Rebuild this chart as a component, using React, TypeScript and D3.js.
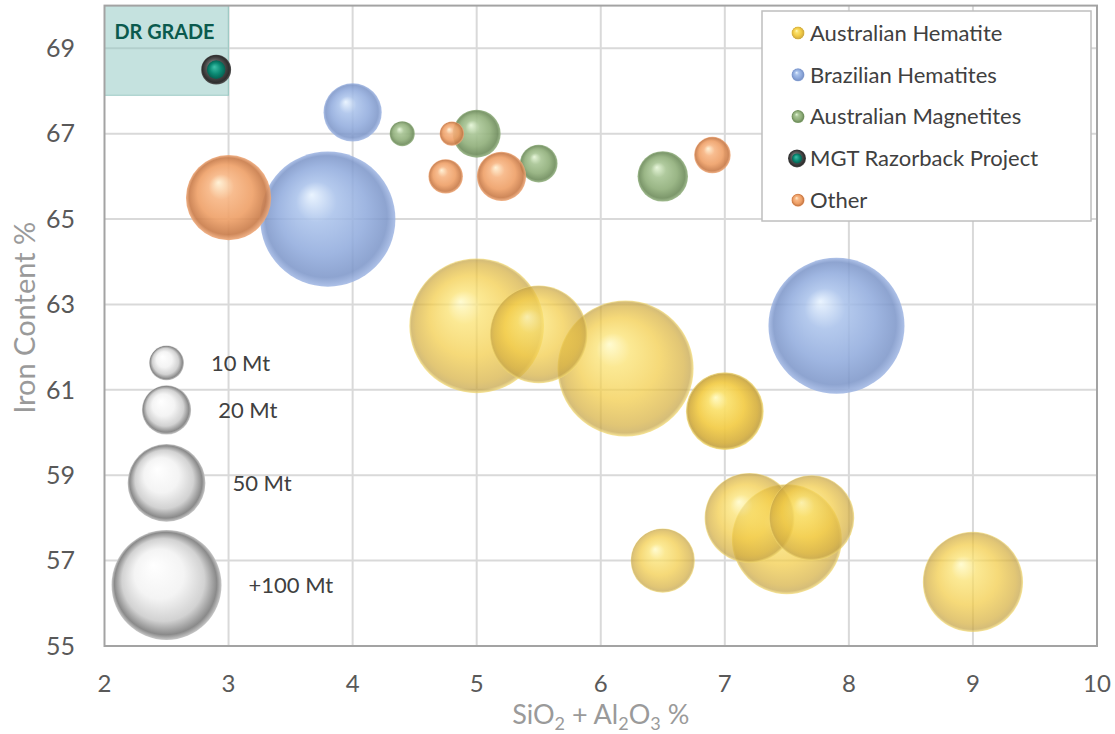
import React from "react";
import * as d3 from "d3";

// ---------- data ----------
const seriesNames = [
  "Australian Hematite",
  "Brazilian Hematites",
  "Australian Magnetites",
  "MGT Razorback Project",
  "Other",
];

const hematiteX = [5.0, 6.2, 7.5, 9.0, 5.5, 7.2, 7.7, 7.0, 7.0, 6.5];
const hematiteY = [62.5, 61.5, 57.5, 56.5, 62.3, 58.0, 58.0, 60.5, 60.5, 57.0];
const hematiteMt = [150, 153, 100, 83, 79, 67, 60, 50, 48, 34];

const brazilX = [3.8, 7.9, 4.0];
const brazilY = [65.0, 62.5, 67.5];
const brazilMt = [151, 153, 28];

const magnetiteX = [5.0, 6.5, 5.5, 4.4];
const magnetiteY = [67.0, 66.0, 66.3, 67.0];
const magnetiteMt = [19, 21, 11.7, 5.2];

const mgtX = [2.9];
const mgtY = [68.5];
const mgtMt = [7.4];

const otherX = [3.0, 5.2, 6.9, 4.75, 4.8];
const otherY = [65.5, 66.0, 66.5, 66.0, 67.0];
const otherMt = [60, 20, 11, 9.8, 4.9];

const xTicks = [2, 3, 4, 5, 6, 7, 8, 9, 10];
const yTicks = [55, 57, 59, 61, 63, 65, 67, 69];

const sizeLegendMt = [10, 20, 50, 100];
const sizeLegendLabels = ["10 Mt", "20 Mt", "50 Mt", "+100 Mt"];
const sizeLegendX = [2.5, 2.5, 2.5, 2.5];
const sizeLegendY = [61.63, 60.53, 58.82, 56.43];

const drBoxX = [2, 3];
const drBoxY = [67.9, 70];

// ---------- styles ----------
const W = 1115;
const H = 734;
const FONT = "Lato, 'Open Sans', 'DejaVu Sans', sans-serif";

type Grad = { id: string; stops: [number, string][]; opacity: number };
const grads: Grad[] = [
  {
    id: "g-hem",
    opacity: 0.72,
    stops: [
      [0, "#fffac0"],
      [0.25, "#fae06a"],
      [0.6, "#f2cb45"],
      [0.88, "#d6b040"],
      [0.96, "#c6a444"],
      [1, "#f5dc70"],
    ],
  },
  {
    id: "g-bra",
    opacity: 0.85,
    stops: [
      [0, "#e6f2ff"],
      [0.3, "#a7c0ea"],
      [0.65, "#8ea9dc"],
      [0.9, "#7a94c8"],
      [1, "#9fb6e4"],
    ],
  },
  {
    id: "g-mag",
    opacity: 0.9,
    stops: [
      [0, "#e4f5d6"],
      [0.3, "#a7c493"],
      [0.65, "#8fae79"],
      [0.9, "#6f8d5c"],
      [1, "#97b584"],
    ],
  },
  {
    id: "g-mgt",
    opacity: 1,
    stops: [
      [0, "#9a9a9a"],
      [0.5, "#5a5a5a"],
      [0.9, "#2e2e2e"],
      [1, "#555"],
    ],
  },
  {
    id: "g-oth",
    opacity: 0.9,
    stops: [
      [0, "#fff0d2"],
      [0.3, "#f7b583"],
      [0.65, "#ee9f66"],
      [0.9, "#c97b48"],
      [1, "#f0ab7c"],
    ],
  },
];

const legendSwatch = ["g-hem", "g-bra", "g-mag", "g-mgt", "g-oth"];

export default function App() {
  const x = d3.scaleLinear().domain([2, 10]).range([104.5, 1097]);
  const y = d3.scaleLinear().domain([55, 70]).range([646, 5.6]);
  const r = d3.scaleSqrt().domain([0, 100]).range([0, 55]);

  const series = [
    { g: "g-hem", xs: hematiteX, ys: hematiteY, ms: hematiteMt },
    { g: "g-bra", xs: brazilX, ys: brazilY, ms: brazilMt },
    { g: "g-mag", xs: magnetiteX, ys: magnetiteY, ms: magnetiteMt },
    { g: "g-mgt", xs: mgtX, ys: mgtY, ms: mgtMt },
    { g: "g-oth", xs: otherX, ys: otherY, ms: otherMt },
  ];

  const x0 = x(2), x1 = x(10), y0 = y(55), y1 = y(70);

  const legX = 762, legY = 11, legW = 329, legH = 210;
  const legRowY = (i: number) => 33 + i * 41.8;

  return (
    <svg
      width={W}
      height={H}
      style={{ position: "absolute", left: 0, top: 0, background: "#fff" }}
      fontFamily={FONT}
    >
      <defs>
        {grads.map((g) => (
          <radialGradient key={g.id} id={g.id} cx="50%" cy="50%" r="50%" fx="38%" fy="32%">
            {g.stops.map(([o, c], i) => (
              <stop key={i} offset={o} stopColor={c} />
            ))}
          </radialGradient>
        ))}
        <radialGradient id="g-white" cx="50%" cy="50%" r="50%" fx="38%" fy="32%">
          <stop offset={0} stopColor="#ffffff" />
          <stop offset={0.45} stopColor="#f4f4f4" />
          <stop offset={0.75} stopColor="#d2d2d2" />
          <stop offset={0.93} stopColor="#8a8a8a" />
          <stop offset={1} stopColor="#c8c8c8" />
        </radialGradient>
        <radialGradient id="g-teal" cx="50%" cy="50%" r="50%" fx="40%" fy="35%">
          <stop offset={0} stopColor="#3fc2aa" />
          <stop offset={0.6} stopColor="#0b8a74" />
          <stop offset={1} stopColor="#066152" />
        </radialGradient>
      </defs>

      <rect x={0} y={0} width={W} height={H} fill="#fff" />

      {/* grid */}
      {xTicks.slice(1, -1).map((t) => (
        <line key={"gx" + t} x1={x(t)} x2={x(t)} y1={y1} y2={y0} stroke="#d9d9d9" strokeWidth={2} />
      ))}
      {yTicks.slice(1).map((t) => (
        <line key={"gy" + t} x1={x0} x2={x1} y1={y(t)} y2={y(t)} stroke="#d9d9d9" strokeWidth={2} />
      ))}

      {/* DR grade box */}
      <rect
        x={x(drBoxX[0])}
        y={y(drBoxY[1])}
        width={x(drBoxX[1]) - x(drBoxX[0])}
        height={y(drBoxY[0]) - y(drBoxY[1])}
        fill="#8cc6c0"
        fillOpacity={0.5}
        stroke="#9ccac5"
        strokeWidth={1}
      />
      <text
        x={x(drBoxX[0]) + 10}
        y={39}
        fill="#0b5a4e"
        fontSize={20}
        fontWeight={700}
        textLength={100}
        lengthAdjust="spacingAndGlyphs"
      >
        DR GRADE
      </text>

      {/* plot frame */}
      <rect x={x0} y={y1} width={x1 - x0} height={y0 - y1} fill="none" stroke="#a3a3a3" strokeWidth={2} />

      {/* size legend */}
      {sizeLegendMt.map((m, i) => (
        <g key={"sl" + i}>
          <circle cx={x(sizeLegendX[i])} cy={y(sizeLegendY[i])} r={r(m)} fill="url(#g-white)" />
          <text
            x={x(sizeLegendX[i]) + r(m) + 27}
            y={y(sizeLegendY[i])}
            dy="0.35em"
            fontSize={22}
            fill="#404040"
          >
            {sizeLegendLabels[i]}
          </text>
        </g>
      ))}

      {/* bubbles */}
      {series.map((s, si) => (
        <g key={"s" + si}>
          {s.xs.map((xv, i) => {
            const cx = x(xv), cy = y(s.ys[i]), rr = r(s.ms[i]);
            const op = grads.find((g) => g.id === s.g)!.opacity;
            if (s.g === "g-mgt") {
              return (
                <g key={i}>
                  <circle cx={cx} cy={cy} r={rr} fill="url(#g-mgt)" />
                  <circle cx={cx} cy={cy} r={rr * 0.62} fill="url(#g-teal)" />
                </g>
              );
            }
            return <circle key={i} cx={cx} cy={cy} r={rr} fill={`url(#${s.g})`} fillOpacity={op} />;
          })}
        </g>
      ))}

      {/* series legend */}
      <rect x={legX} y={legY} width={legW} height={legH} fill="#fff" stroke="#bfbfbf" strokeWidth={1.5} />
      {seriesNames.map((n, i) => (
        <g key={"lg" + i}>
          {legendSwatch[i] === "g-mgt" ? (
            <g>
              <circle cx={797} cy={legRowY(i)} r={9} fill="url(#g-mgt)" />
              <circle cx={797} cy={legRowY(i)} r={5} fill="url(#g-teal)" />
            </g>
          ) : (
            <circle cx={798} cy={legRowY(i)} r={6.5} fill={`url(#${legendSwatch[i]})`} />
          )}
          <text x={810} y={legRowY(i)} dy="0.35em" fontSize={22} fill="#404040">
            {n}
          </text>
        </g>
      ))}

      {/* y axis tick labels */}
      {yTicks.map((t) => (
        <text key={"yt" + t} x={75} y={y(t)} dy="0.35em" textAnchor="end" fontSize={25} fill="#595959">
          {t}
        </text>
      ))}
      {/* x axis tick labels */}
      {xTicks.map((t) => (
        <text key={"xt" + t} x={x(t)} y={684} dy="0.35em" textAnchor="middle" fontSize={24} fill="#595959">
          {t}
        </text>
      ))}

      {/* axis titles */}
      <text
        transform={`translate(35, ${(y0 + y1) / 2 - 8}) rotate(-90)`}
        textAnchor="middle"
        fontSize={29}
        fill="#9a9a9a"
      >
        Iron Content %
      </text>
      <text x={(x0 + x1) / 2} y={724} textAnchor="middle" fontSize={27} fill="#9a9a9a">
        SiO
        <tspan fontSize={18} dy={6}>2</tspan>
        <tspan dy={-6}> + Al</tspan>
        <tspan fontSize={18} dy={6}>2</tspan>
        <tspan dy={-6}>O</tspan>
        <tspan fontSize={18} dy={6}>3</tspan>
        <tspan dy={-6}> %</tspan>
      </text>
    </svg>
  );
}
